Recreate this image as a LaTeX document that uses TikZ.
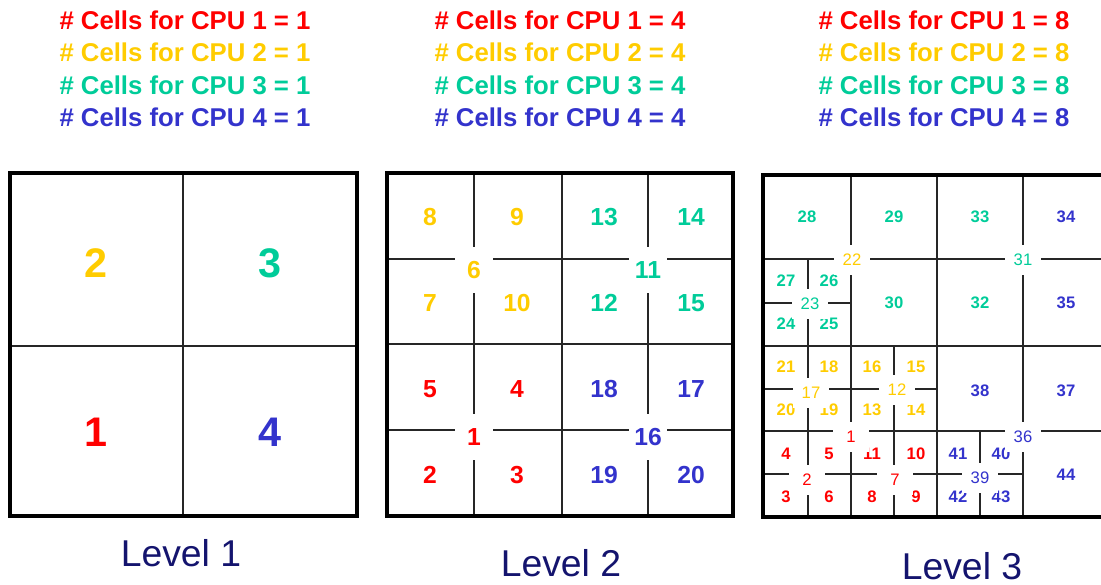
\documentclass[tikz,border=0pt]{standalone}
\usepackage{fontspec}
\setmainfont{Liberation Sans}
\definecolor{cpuone}{RGB}{255,0,0}
\definecolor{cputwo}{RGB}{255,204,0}
\definecolor{cputhree}{RGB}{0,204,153}
\definecolor{cpufour}{RGB}{51,51,204}
\definecolor{levelnavy}{RGB}{20,20,110}

\tikzset{every picture/.style={line width=0.75pt}}
\tikzset{
  frame/.style={line width=3pt},
  gridline/.style={line width=0.9pt,color=black!85},
  head/.style={font=\fontsize{19.3}{22}\selectfont\bfseries,inner sep=0pt},
  lvl/.style={font=\fontsize{28}{32}\selectfont,text=levelnavy,inner sep=0pt},
  bigno/.style={font=\fontsize{31}{36}\selectfont\bfseries,inner sep=0pt},
  midno/.style={font=\fontsize{18.5}{22}\selectfont\bfseries,inner sep=0pt},
  smallno/.style={font=\fontsize{12.5}{15}\selectfont\bfseries,inner sep=0pt},
  hubtwo/.style={midno,fill=white,minimum width=29pt,minimum height=34pt},
  hubthree/.style={font=\fontsize{12.5}{15}\selectfont,inner sep=0pt,fill=white,minimum width=27pt,minimum height=23pt},
}

\begin{document}
\begin{tikzpicture}[x=0.75pt,y=0.75pt,yscale=-1,xscale=1]
\clip (0,0) rectangle (1101,585);

% Headers
\node[head,text=cpuone]   (hdA1) at (185,20)  {\# Cells for CPU 1 = 1};
\node[head,text=cputwo]   (hdA2) at (185,52)  {\# Cells for CPU 2 = 1};
\node[head,text=cputhree] (hdA3) at (185,85)  {\# Cells for CPU 3 = 1};
\node[head,text=cpufour]  (hdA4) at (185,117) {\# Cells for CPU 4 = 1};
\node[head,text=cpuone]   (hdB1) at (560,20)  {\# Cells for CPU 1 = 4};
\node[head,text=cputwo]   (hdB2) at (560,52)  {\# Cells for CPU 2 = 4};
\node[head,text=cputhree] (hdB3) at (560,85)  {\# Cells for CPU 3 = 4};
\node[head,text=cpufour]  (hdB4) at (560,117) {\# Cells for CPU 4 = 4};
\node[head,text=cpuone]   (hdC1) at (944,20)  {\# Cells for CPU 1 = 8};
\node[head,text=cputwo]   (hdC2) at (944,52)  {\# Cells for CPU 2 = 8};
\node[head,text=cputhree] (hdC3) at (944,85)  {\# Cells for CPU 3 = 8};
\node[head,text=cpufour]  (hdC4) at (944,117) {\# Cells for CPU 4 = 8};

% Level 1
\draw[gridline] (183,173) -- (183,516);
\draw[gridline] (10,346) -- (357,346);
\draw[frame] (10,173) rectangle (357,516);
\node[bigno,text=cputwo]   (lA2) at (96,263)  {2};
\node[bigno,text=cputhree] (lA3) at (270,263) {3};
\node[bigno,text=cpuone]   (lA1) at (96,432)  {1};
\node[bigno,text=cpufour]  (lA4) at (270,432) {4};
\node[lvl] (lvlA) at (181,553) {Level 1};

% Level 2
\draw[gridline] (474,173) -- (474,516);
\draw[gridline] (562,173) -- (562,516);
\draw[gridline] (648,173) -- (648,516);
\draw[gridline] (387,259) -- (733,259);
\draw[gridline] (387,344) -- (733,344);
\draw[gridline] (387,430) -- (733,430);
\draw[frame] (387,173) rectangle (733,516);
\node[midno,text=cputwo]   (lB8)  at (430,217) {8};
\node[midno,text=cputwo]   (lB9)  at (517,217) {9};
\node[midno,text=cputhree] (lB13) at (604,217) {13};
\node[midno,text=cputhree] (lB14) at (691,217) {14};
\node[midno,text=cputwo]   (lB7)  at (430,303) {7};
\node[midno,text=cputwo]   (lB10) at (517,303) {10};
\node[midno,text=cputhree] (lB12) at (604,303) {12};
\node[midno,text=cputhree] (lB15) at (691,303) {15};
\node[midno,text=cpuone]   (lB5)  at (430,389) {5};
\node[midno,text=cpuone]   (lB4)  at (517,389) {4};
\node[midno,text=cpufour]  (lB18) at (604,389) {18};
\node[midno,text=cpufour]  (lB17) at (691,389) {17};
\node[midno,text=cpuone]   (lB2)  at (430,475) {2};
\node[midno,text=cpuone]   (lB3)  at (517,475) {3};
\node[midno,text=cpufour]  (lB19) at (604,475) {19};
\node[midno,text=cpufour]  (lB20) at (691,475) {20};
\node[hubtwo,text=cputwo]   (lB6)  at (474,270) {6};
\node[hubtwo,text=cputhree] (lB11) at (648,270) {11};
\node[hubtwo,text=cpuone]   (lB1)  at (474,437) {1};
\node[hubtwo,text=cpufour]  (lB16) at (648,437) {16};
\node[lvl] (lvlB) at (561,563) {Level 2};

% Level 3
\draw[gridline] (851,175) -- (851,517);
\draw[gridline] (937,175) -- (937,517);
\draw[gridline] (1023,175) -- (1023,517);
\draw[gridline] (763,259) -- (1109,259);
\draw[gridline] (763,346) -- (1109,346);
\draw[gridline] (763,431) -- (1109,431);
\draw[gridline] (808,259) -- (808,346);
\draw[gridline] (763,303) -- (851,303);
\draw[gridline] (808,346) -- (808,517);
\draw[gridline] (894,346) -- (894,517);
\draw[gridline] (763,389) -- (937,389);
\draw[gridline] (763,474) -- (937,474);
\draw[gridline] (980,431) -- (980,517);
\draw[gridline] (937,474) -- (1023,474);
\draw[frame] (763,175) rectangle (1109,517);
% Text Node
\node[smallno,text=cputhree] (lC28) at (807,217) {28};
\node[smallno,text=cputhree] (lC29) at (894,217) {29};
\node[smallno,text=cputhree] (lC33) at (980,217) {33};
\node[smallno,text=cpufour]  (lC34) at (1066,217) {34};
\node[smallno,text=cputhree] (lC27) at (786,281) {27};
\node[smallno,text=cputhree] (lC26) at (829,281) {26};
\node[smallno,text=cputhree] (lC24) at (786,324) {24};
\node[smallno,text=cputhree] (lC25) at (829,324) {25};
\node[smallno,text=cputhree] (lC30) at (894,303) {30};
\node[smallno,text=cputhree] (lC32) at (980,303) {32};
\node[smallno,text=cpufour]  (lC35) at (1066,303) {35};
% Text Node
\node[smallno,text=cputwo] (lC21) at (786,367) {21};
\node[smallno,text=cputwo] (lC18) at (829,367) {18};
\node[smallno,text=cputwo] (lC20) at (786,410) {20};
\node[smallno,text=cputwo] (lC19) at (829,410) {19};
\node[smallno,text=cputwo] (lC16) at (872,367) {16};
\node[smallno,text=cputwo] (lC15) at (916,367) {15};
\node[smallno,text=cputwo] (lC13) at (872,410) {13};
\node[smallno,text=cputwo] (lC14) at (916,410) {14};
\node[smallno,text=cpuone] (lC4)  at (786,454) {4};
\node[smallno,text=cpuone] (lC5)  at (829,454) {5};
\node[smallno,text=cpuone] (lC3)  at (786,497) {3};
\node[smallno,text=cpuone] (lC6)  at (829,497) {6};
\node[smallno,text=cpuone] (lC11) at (872,454) {11};
\node[smallno,text=cpuone] (lC10) at (916,454) {10};
\node[smallno,text=cpuone] (lC8)  at (872,497) {8};
\node[smallno,text=cpuone] (lC9)  at (916,497) {9};
% Text Node
\node[smallno,text=cpufour] (lC38) at (980,391) {38};
\node[smallno,text=cpufour] (lC37) at (1066,391) {37};
\node[smallno,text=cpufour] (lC41) at (958,454) {41};
\node[smallno,text=cpufour] (lC40) at (1001,454) {40};
\node[smallno,text=cpufour] (lC42) at (958,497) {42};
\node[smallno,text=cpufour] (lC43) at (1001,497) {43};
\node[smallno,text=cpufour] (lC44) at (1066,475) {44};
% Hub nodes
\node[hubthree,text=cputwo]   (lC22) at (852,260) {22};
\node[hubthree,text=cputhree] (lC23) at (810,304) {23};
\node[hubthree,text=cputhree] (lC31) at (1023,260) {31};
\node[hubthree,text=cputwo]   (lC17) at (811,393) {17};
\node[hubthree,text=cputwo]   (lC12) at (897,390) {12};
\node[hubthree,text=cpuone]   (lC1)  at (851,437) {1};
\node[hubthree,text=cpuone]   (lC2)  at (807,480) {2};
\node[hubthree,text=cpuone]   (lC7)  at (895,480) {7};
\node[hubthree,text=cpufour]  (lC36) at (1023,437) {36};
\node[hubthree,text=cpufour]  (lC39) at (980,478) {39};
\node[lvl] (lvlC) at (962,566) {Level 3};

\end{tikzpicture}
\end{document}
